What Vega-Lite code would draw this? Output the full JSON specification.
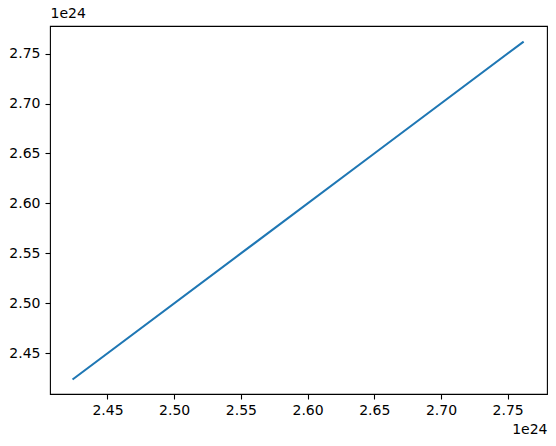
{
  "$schema": "https://vega.github.io/schema/vega-lite/v6.json",
  "width": 497,
  "height": 368,
  "autosize": {"type": "none"},
  "padding": {"left": 50, "top": 26, "right": 9, "bottom": 52},
  "background": "white",
  "config": {
    "view": {"stroke": "black", "strokeWidth": 1.1},
    "font": "DejaVu Sans",
    "axis": {
      "grid": false,
      "domain": false,
      "tickColor": "black",
      "tickSize": 5,
      "tickWidth": 1.1,
      "labelFont": "DejaVu Sans",
      "labelFontSize": 14,
      "labelColor": "black",
      "labelPadding": 4,
      "titleFont": "DejaVu Sans",
      "titleFontSize": 14,
      "titleFontWeight": "normal",
      "titleColor": "black"
    }
  },
  "data": {
    "values": [
      {"a": 2.4238e24, "b": 2.4238e24},
      {"a": 2.55e24, "b": 2.55e24},
      {"a": 2.65e24, "b": 2.65e24},
      {"a": 2.762e24, "b": 2.762e24}
    ]
  },
  "mark": {"type": "line", "color": "#1f77b4", "strokeWidth": 2.08, "clip": true},
  "encoding": {
    "x": {
      "field": "a",
      "type": "quantitative",
      "scale": {"domain": [2.4069e24, 2.7795e24], "nice": false, "zero": false},
      "axis": {
        "values": [2.45e24, 2.5e24, 2.55e24, 2.6e24, 2.65e24, 2.7e24, 2.75e24],
        "labelExpr": "format(datum.value / 1e24, '.2f')",
        "title": "1e24",
        "titleX": 497,
        "titleY": 28,
        "titleAlign": "right",
        "titleBaseline": "top",
        "labelFlush": false,
        "labelOverlap": false
      }
    },
    "y": {
      "field": "b",
      "type": "quantitative",
      "scale": {"domain": [2.4093e24, 2.7776e24], "nice": false, "zero": false},
      "axis": {
        "values": [2.45e24, 2.5e24, 2.55e24, 2.6e24, 2.65e24, 2.7e24, 2.75e24],
        "labelExpr": "format(datum.value / 1e24, '.2f')",
        "labelPadding": 5,
        "title": "1e24",
        "titleAngle": 0,
        "titleX": 0,
        "titleY": -6,
        "titleAlign": "left",
        "titleBaseline": "bottom",
        "labelFlush": false,
        "labelOverlap": false
      }
    }
  }
}
